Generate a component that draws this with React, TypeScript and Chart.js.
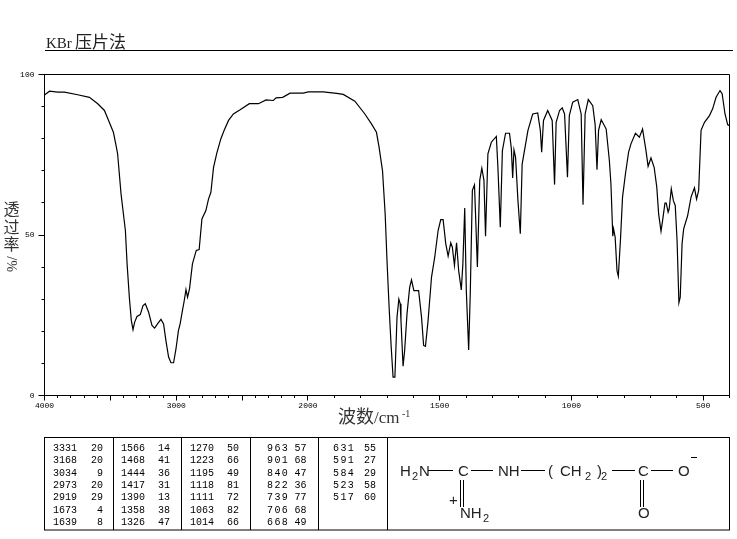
import React, { useEffect, useRef } from "react";
import { Chart, registerables } from "chart.js";

Chart.register(...registerables);

const wavenumbers = [
  4000, 3962, 3899, 3848, 3748, 3659, 3596, 3545, 3508, 3477, 3457, 3445, 3419,
  3386, 3373, 3356, 3341, 3328, 3316, 3298, 3273, 3252, 3235,
  3210, 3184, 3164, 3142, 3116, 3096, 3078, 3058, 3040, 3020,
  3002, 2983, 2970, 2957, 2939, 2926, 2914, 2899, 2877, 2848,
  2826, 2805, 2775, 2755, 2737, 2717, 2692, 2661, 2636, 2603,
  2566, 2515, 2445, 2376, 2318, 2263, 2242, 2192, 2136, 2036,
  1999, 1942, 1891, 1866, 1822, 1784, 1759, 1740, 1730,
  1717, 1707, 1700, 1692, 1684, 1677, 1670, 1662, 1655, 1650,
  1647, 1639, 1633, 1624, 1614, 1607, 1598, 1580, 1569, 1561,
  1554, 1544, 1531, 1519, 1506, 1496, 1487, 1477, 1468, 1458,
  1452, 1444, 1436, 1428, 1418, 1412, 1405, 1399, 1390, 1384,
  1376, 1368, 1364, 1357, 1348, 1340, 1332, 1326, 1317, 1304,
  1285, 1279, 1270, 1262, 1250, 1235, 1228, 1223, 1218, 1212,
  1203, 1194, 1187, 1165, 1147, 1128, 1118, 1113, 1106, 1090,
  1073, 1064, 1058, 1045, 1035, 1026, 1015, 1008, 995, 976,
  963, 956, 948, 936, 919, 910, 903, 897, 887, 868,
  856, 850, 843, 840, 834, 827, 822, 814, 806, 795,
  783, 774, 757, 742, 730, 717, 709, 698, 686, 676,
  669, 660, 654, 645, 640, 633, 629, 621, 613, 606,
  599, 592, 587, 580, 574, 559, 546, 533, 525, 517,
  508, 495, 476, 464, 451, 436, 428, 417, 407, 400,
];

const transmittance = [
  93.6, 94.8, 94.5, 94.5, 93.7, 92.9, 90.9, 88.8, 85.1, 82, 77.9, 75.3, 62.8,
  51.4, 41, 30.6, 23.4, 20.5, 22.8, 24.6, 25.2, 28, 28.6,
  26, 21.8, 21, 22.3, 23.7, 22.3, 17, 12, 10.2, 10.2,
  14.5, 20.3, 22.4, 25.5, 29.6, 33, 30.6, 33.3, 41, 45.2,
  45.5, 55, 57.6, 61.2, 63.3, 71, 75.5, 80, 82.6, 85.7,
  87.7, 89, 90.9, 90.9, 92.1, 91.9, 92.7, 92.9, 94.2, 94.2,
  94.6, 94.6, 94.1, 93.8, 91.7, 87.7, 84.6, 82, 77.3,
  70, 56.6, 42, 27.5, 15, 5.7, 5.7, 24.4, 30, 28.6,
  23.4, 9.1, 14, 25.5, 33.7, 36, 32.7, 32.7, 24.4, 15.6,
  15.3, 23.4, 36.9, 43, 51.4, 54.8, 54.8, 47.3, 43.4, 47.6,
  46.2, 40.5, 47.6, 38.9, 32.9, 41, 58.4, 32.7, 14.2, 31.7,
  63.9, 65.6, 56.6, 40, 67, 70.8, 67, 49.6, 75.3, 78.9,
  80.7, 71, 52.4, 76.3, 81.7, 81.7, 76.9, 67.8, 76.5, 74.2,
  60.7, 50.4, 72.1, 82.6, 87.7, 88, 82.6, 75.8, 85.7, 88.8,
  85.7, 65.7, 85.1, 88.8, 89.6, 87.7, 68, 87.2, 91.4, 92.2,
  87.7, 59.4, 87.7, 92.2, 90.3, 84.4, 70.3, 82.6, 85.9, 83,
  73.2, 65.9, 49.6, 51.9, 49.3, 38.9, 37.2, 48.3, 61.8, 69,
  75.8, 78.4, 81.7, 80.5, 83, 76.3, 71.4, 74, 71.1, 64.9,
  56.6, 51.2, 54.5, 59.9, 59.9, 57.1, 58.1, 64.4, 60.7, 59.2,
  48.3, 28.9, 30.6, 47.3, 51.9, 56, 61.8, 64.7, 61.2, 63.9,
  82.6, 85.1, 87.2, 89.3, 92.9, 95, 94, 87.7, 84.4, 84,
];

const xLabels = [4000, 3000, 2000, 1500, 1000, 500];
const xMajorTicks = [4000, 3500, 3000, 2500, 2000, 1500, 1000, 500];
const xMinorTicks = [
  3900, 3800, 3700, 3600, 3400, 3300, 3200, 3100, 2900, 2800, 2700, 2600, 2400, 2300, 2200, 2100,
  1900, 1800, 1700, 1600, 1400, 1300, 1200, 1100, 900, 800, 700, 600, 400,
];
const yLabels = [0, 50, 100];

const titleLatin = "KBr";
const titleCjk = "压片法";
const xTitleCjk = "波数";
const xTitleUnit = "/cm";
const xTitleExponent = "-1";
const yTitleCjk = ["透", "过", "率"];
const yTitleUnit = "%/";

const peakColumns = [
  [["3331", "20"], ["3168", "20"], ["3034", "9"], ["2973", "20"], ["2919", "29"], ["1673", "4"], ["1639", "8"]],
  [["1566", "14"], ["1468", "41"], ["1444", "36"], ["1417", "31"], ["1390", "13"], ["1358", "38"], ["1326", "47"]],
  [["1270", "50"], ["1223", "66"], ["1195", "49"], ["1118", "81"], ["1111", "72"], ["1063", "82"], ["1014", "66"]],
  [["963", "57"], ["901", "68"], ["840", "47"], ["822", "36"], ["739", "77"], ["706", "68"], ["668", "49"]],
  [["631", "55"], ["591", "27"], ["584", "29"], ["523", "58"], ["517", "60"]],
];

// The spectrum's axis doubles its scale below 2000 cm-1.
const axisPos = (w: number) => (w >= 2000 ? 4000 - w : 2000 + (2000 - w) * 2);

const SERIF = '"Liberation Serif", serif';
const CJK = '"Noto Sans CJK SC", sans-serif';
const MONO = '"Liberation Mono", monospace';
const SANS = '"Liberation Sans", sans-serif';

function hLine(c: CanvasRenderingContext2D, x1: number, x2: number, y: number) {
  c.beginPath();
  c.moveTo(x1, y);
  c.lineTo(x2, y);
  c.stroke();
}
function vLine(c: CanvasRenderingContext2D, x: number, y1: number, y2: number) {
  c.beginPath();
  c.moveTo(x, y1);
  c.lineTo(x, y2);
  c.stroke();
}
function text(c: CanvasRenderingContext2D, s: string, x: number, y: number, font: string, align: CanvasTextAlign = "left") {
  c.font = font;
  c.textAlign = align;
  c.textBaseline = "alphabetic";
  c.fillText(s, x, y);
}

const decorPlugin = {
  id: "decor",
  afterDraw(chart: any) {
    const c: CanvasRenderingContext2D = chart.ctx;
    const { left, right, top, bottom } = chart.chartArea;
    const xs = chart.scales.x;
    const ys = chart.scales.y;
    c.save();
    c.strokeStyle = "#000";
    c.fillStyle = "#000";
    c.lineWidth = 1;

    // frame and ticks
    hLine(c, left, right, top);
    vLine(c, right, top, bottom);
    const snap = (v: number) => Math.round(v - 0.5) + 0.5;
    xMajorTicks.forEach((w) => vLine(c, snap(xs.getPixelForValue(axisPos(w))), bottom, bottom + 5));
    xMinorTicks.forEach((w) => vLine(c, snap(xs.getPixelForValue(axisPos(w))), bottom, bottom + 2.5));
    ys.ticks.forEach((t: any) => {
      const len = yLabels.includes(t.value) ? 6 : 3;
      hLine(c, left - len, left, snap(ys.getPixelForValue(t.value)));
    });

    // heading
    c.fillStyle = "#222";
    text(c, titleLatin, 46, 48, `15px ${SERIF}`);
    text(c, titleCjk, 75, 48, `17px ${CJK}`);
    c.strokeStyle = "#000";
    hLine(c, 45, 733, 50.5);

    // axis titles
    c.fillStyle = "#333";
    text(c, xTitleCjk, 338, 423, `18px ${CJK}`);
    text(c, xTitleUnit, 374, 423, `17px ${SERIF}`);
    text(c, xTitleExponent, 402, 417, `10px ${SERIF}`);
    yTitleCjk.forEach((ch, i) => text(c, ch, 11.5, 215 + i * 17.5, `16px ${CJK}`, "center"));
    c.save();
    c.translate(17, 272);
    c.rotate(-Math.PI / 2);
    text(c, yTitleUnit, 0, 0, `14px ${SERIF}`);
    c.restore();

    // peak table
    c.fillStyle = "#000";
    c.strokeRect(44.5, 437.5, 685, 92.5);
    [113.5, 181.5, 250.5, 318.5, 387.5].forEach((x) => vLine(c, x, 437.5, 530));
    const waveRight = [77, 145, 214, 289, 355];
    const valueRight = [103, 170, 239, 306.5, 376];
    peakColumns.forEach((col, ci) => {
      col.forEach((row, ri) => {
        const y = 451 + ri * 12.3;
        c.letterSpacing = row[0].length === 3 ? "1.3px" : "0px";
        text(c, row[0], waveRight[ci], y, `10px ${MONO}`, "right");
        c.letterSpacing = "0px";
        text(c, row[1], valueRight[ci], y, `10px ${MONO}`, "right");
      });
    });

    // structure
    const f = `15px ${SANS}`;
    const sub = `11px ${SANS}`;
    c.fillStyle = "#222";
    text(c, "H", 400, 476, f);
    text(c, "2", 412, 480, sub);
    text(c, "N", 419, 476, f);
    hLine(c, 428, 453, 470.5);
    text(c, "C", 458, 476, f);
    hLine(c, 471, 493, 470.5);
    text(c, "NH", 498, 476, f);
    hLine(c, 521, 545, 470.5);
    text(c, "(", 548, 476, f);
    text(c, "CH", 560, 476, f);
    text(c, "2", 585, 480, sub);
    text(c, ")", 597, 476, f);
    text(c, "2", 601, 480, sub);
    hLine(c, 612, 635, 470.5);
    text(c, "C", 638, 476, f);
    hLine(c, 651, 673, 470.5);
    text(c, "O", 678, 476, f);
    hLine(c, 691, 697, 457.5);
    vLine(c, 460.5, 480, 507);
    vLine(c, 463.5, 480, 507);
    text(c, "+", 449, 505, f);
    text(c, "NH", 460, 518, f);
    text(c, "2", 483, 522, sub);
    vLine(c, 640.5, 480, 507);
    vLine(c, 643.5, 480, 507);
    text(c, "O", 638, 518, f);
    c.restore();
  },
};

export default function App() {
  const ref = useRef<HTMLCanvasElement>(null);
  useEffect(() => {
    document.body.style.margin = "0";
    const chart = new Chart(ref.current!, {
      type: "line",
      plugins: [decorPlugin],
      data: {
        datasets: [
          {
            data: wavenumbers.map((w, i) => ({ x: axisPos(w), y: transmittance[i] })),
            borderColor: "#000",
            borderWidth: 1.2,
            pointRadius: 0,
            tension: 0,
          },
        ],
      },
      options: {
        animation: false,
        responsive: false,
        devicePixelRatio: 1,
        layout: { padding: { top: 74.5, right: 7.5, left: 0, bottom: 0 } },
        plugins: { legend: { display: false }, title: { display: false }, tooltip: { enabled: false } },
        scales: {
          x: {
            type: "linear",
            min: 0,
            max: 5200,
            grid: { display: false, drawTicks: false },
            border: { display: true, color: "#000", width: 1 },
            afterBuildTicks: (s: any) => {
              s.ticks = xLabels.map((w) => ({ value: axisPos(w), label: String(w) }));
            },
            afterFit: (s: any) => {
              s.height = 539 - 395.5;
            },
            ticks: {
              autoSkip: false,
              maxRotation: 0,
              padding: 6,
              color: "#000",
              font: { family: "Liberation Mono", size: 8 },
              callback: (v: any) => {
                const w = xLabels.find((l) => axisPos(l) === v);
                return w === undefined ? "" : String(w);
              },
            },
          },
          y: {
            min: 0,
            max: 100,
            grid: { display: false, drawTicks: false },
            border: { display: true, color: "#000", width: 1 },
            afterFit: (s: any) => {
              s.width = 44.5;
            },
            ticks: {
              stepSize: 10,
              padding: 10,
              color: "#000",
              font: { family: "Liberation Mono", size: 8 },
              callback: (v: any) => (yLabels.includes(v) ? String(v) : ""),
            },
          },
        },
      },
    } as any);
    return () => chart.destroy();
  }, []);
  return (
    <div style={{ position: "absolute", left: 0, top: 0, width: 737, height: 539, background: "#fff" }}>
      <canvas ref={ref} width={737} height={539} style={{ display: "block" }} />
    </div>
  );
}
